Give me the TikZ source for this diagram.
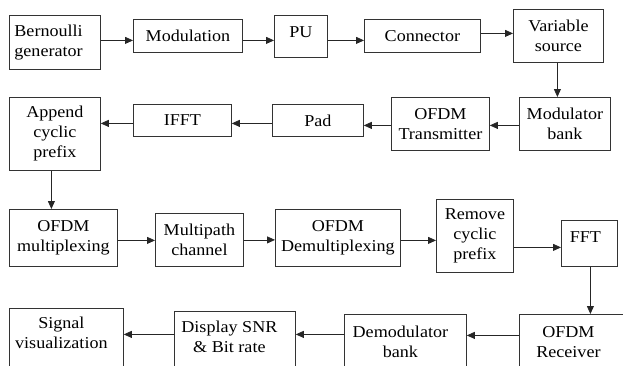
\documentclass[tikz,border=0pt]{standalone}
\usepackage{fontspec}
\setmainfont{Liberation Serif}[FakeStretch=1.09]
\usepackage{tikz}
\usetikzlibrary{calc, arrows.meta}

\begin{document}
\begin{tikzpicture}[x=1pt, y=-1pt,
    font=\fontsize{16.6}{20}\selectfont,
    blk/.style={draw=black!80, line width=0.8pt, inner sep=0pt, align=center, anchor=north west},
    arr/.style={-{Triangle[length=8pt,width=7pt]}, draw=black!85, line width=0.8pt}]
    \clip (0,0) rectangle (623,365);

    % riga 1
    \node[blk, align=left, text width=81pt, inner xsep=5pt, minimum height=54pt] (bern) at (9,15) {Bernoulli\\generator};
    \node[blk, minimum width=109pt, minimum height=33pt] (mod) at (133,19) {Modulation};
    \node[blk, minimum width=53pt, minimum height=42pt] (pu) at (274,15) {};
    \node[anchor=north, inner sep=0pt] (put) at ([yshift=-11pt]pu.north) {PU};
    \node[blk, minimum width=116pt, minimum height=33pt] (conn) at (364,19) {Connector};
    \node[blk, minimum width=90pt, minimum height=53pt] (var) at (513,9) {Variable\\source};

    % riga 2
    \node[blk, minimum width=91pt, minimum height=53pt] (modb) at (519,97) {Modulator\\bank};
    \node[blk, minimum width=98pt, minimum height=53pt] (tx) at (391,97) {OFDM\\Transmitter};
    \node[blk, minimum width=91pt, minimum height=32pt] (pad) at (272,104) {Pad};
    \node[blk, minimum width=98pt, minimum height=32pt] (ifft) at (133,104) {IFFT};
    \node[blk, minimum width=91pt, minimum height=73pt] (app) at (9,97) {Append\\cyclic\\prefix};

    % riga 3
    \node[blk, minimum width=108pt, minimum height=57pt] (mux) at (9,209) {OFDM\\multiplexing};
    \node[blk, minimum width=88pt, minimum height=53pt] (mp) at (155,213) {Multipath\\channel};
    \node[blk, minimum width=125pt, minimum height=57pt] (demux) at (275,209) {OFDM\\Demultiplexing};
    \node[blk, minimum width=77pt, minimum height=73pt] (rm) at (436,199) {Remove\\cyclic\\prefix};
    \node[blk, minimum width=56pt, minimum height=46pt] (fft) at (561,220) {};
    \node[anchor=north, inner sep=0pt] (fftt) at ([xshift=-4pt,yshift=-11pt]fft.north) {FFT};

    % riga 4
    \node[blk, minimum width=111pt, minimum height=60pt] (rx) at (519,314) {};
    \node[anchor=north, inner sep=0pt, align=center] (rxt) at ([xshift=-6.5pt,yshift=-12pt]rx.north) {OFDM\\Receiver};
    \node[blk, minimum width=122pt, minimum height=60pt] (demod) at (344,314) {};
    \node[anchor=north, inner sep=0pt, align=center] (demodt) at ([xshift=-5pt,yshift=-12pt]demod.north) {Demodulator\\bank};
    \node[blk, minimum width=121pt, minimum height=60pt] (disp) at (174,311) {};
    \node[anchor=north, inner sep=0pt, align=center] (dispt) at ([xshift=-5.5pt,yshift=-10pt]disp.north) {Display SNR\\\& Bit rate};
    \node[blk, minimum width=114pt, minimum height=60pt] (sig) at (9,308) {};
    \node[anchor=north, inner sep=0pt, align=center] (sigt) at ([xshift=-5pt,yshift=-9pt]sig.north) {Signal\\visualization};

    % frecce
    \draw[arr] ([yshift=2pt]bern.east) -- ([yshift=2pt]bern.east -| mod.west);
    \draw[arr] ([yshift=-4.5pt]mod.east) -- ([yshift=-4.5pt]mod.east -| pu.west);
    \draw[arr] ([yshift=-4pt]pu.east) -- ([yshift=-4pt]pu.east -| conn.west);
    \draw[arr] ([yshift=2.5pt]conn.east) -- ([yshift=2.5pt]conn.east -| var.west);
    \draw[arr] ([xshift=-1pt]var.south) -- ([xshift=-1pt]var.south |- modb.north);
    \draw[arr] ([yshift=-1.5pt]modb.west) -- ([yshift=-1.5pt]modb.west -| tx.east);
    \draw[arr] ([yshift=-1.5pt]tx.west) -- ([yshift=-1.5pt]tx.west -| pad.east);
    \draw[arr] ([yshift=-3pt]pad.west) -- ([yshift=-3pt]pad.west -| ifft.east);
    \draw[arr] ([yshift=-3pt]ifft.west) -- ([yshift=-3pt]ifft.west -| app.east);
    \draw[arr] ([xshift=-3.5pt]app.south) -- ([xshift=-3.5pt]app.south |- mux.north);
    \draw[arr] ([yshift=-2.5pt]mux.east) -- ([yshift=-2.5pt]mux.east -| mp.west);
    \draw[arr] (mp.east) -- (mp.east -| demux.west);
    \draw[arr] ([yshift=-2.5pt]demux.east) -- ([yshift=-2.5pt]demux.east -| rm.west);
    \draw[arr] ([yshift=-11.5pt]rm.east) -- ([yshift=-11.5pt]rm.east -| fft.west);
    \draw[arr] ([xshift=1pt]fft.south) -- ([xshift=1pt]fft.south |- rx.north);
    \draw[arr] ([yshift=9pt]rx.west) -- ([yshift=9pt]rx.west -| demod.east);
    \draw[arr] ([yshift=10pt]demod.west) -- ([yshift=10pt]demod.west -| disp.east);
    \draw[arr] ([yshift=7pt]disp.west) -- ([yshift=7pt]disp.west -| sig.east);
\end{tikzpicture}
\end{document}
